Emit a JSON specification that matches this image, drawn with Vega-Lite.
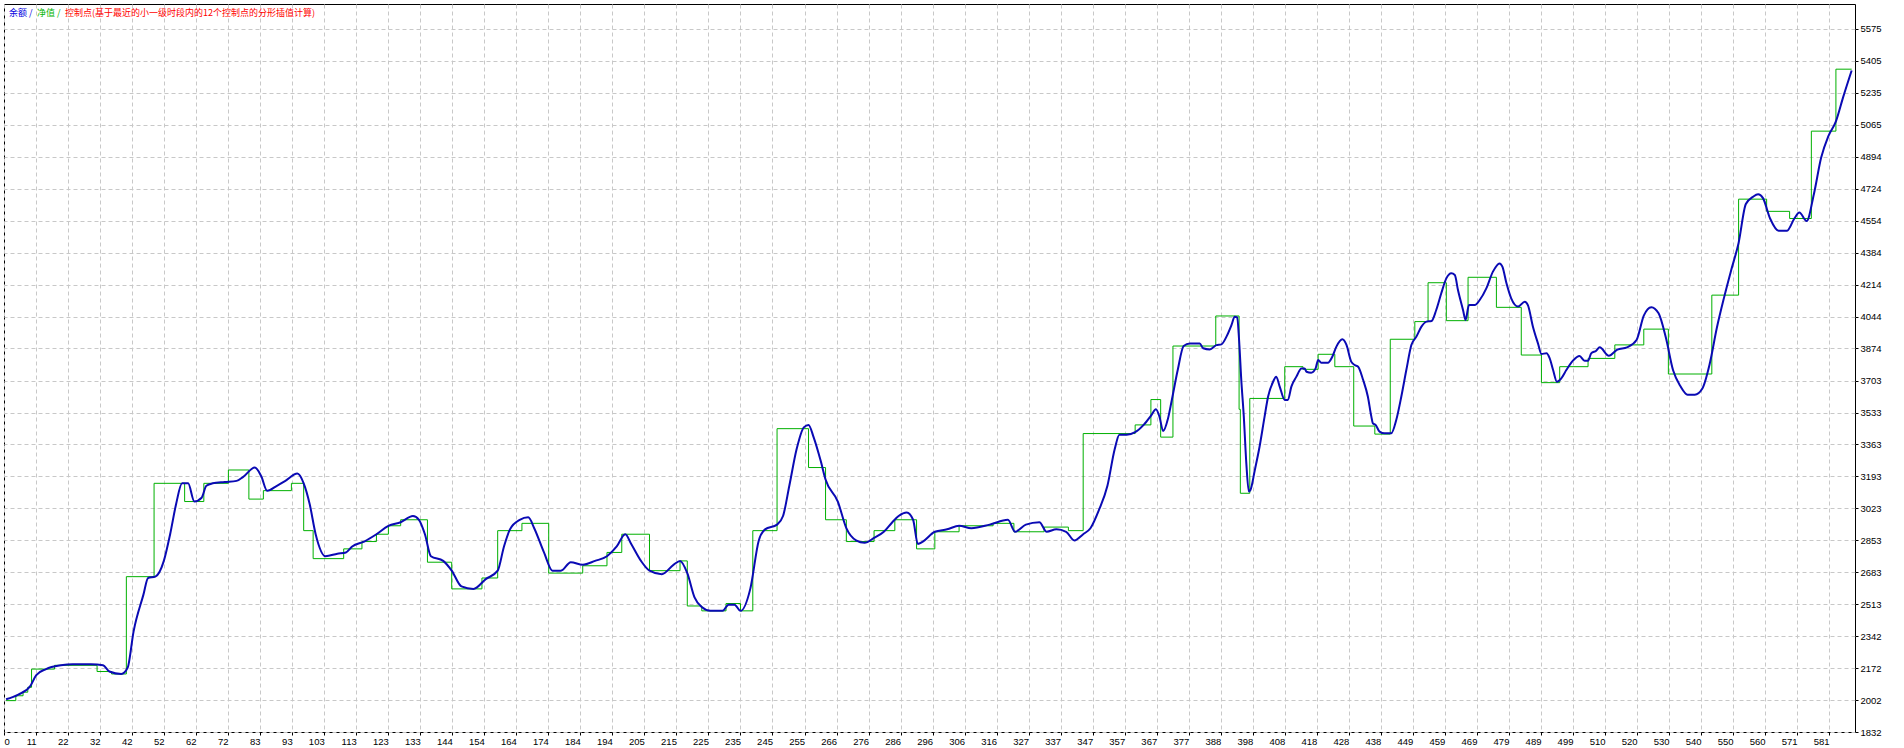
{
  "$schema": "https://vega.github.io/schema/vega-lite/v6.json",
  "width": 1851,
  "height": 728,
  "autosize": {"type": "none"},
  "padding": {"left": 4, "top": 4, "right": 49, "bottom": 16},
  "background": "white",
  "config": {
    "view": {"stroke": "black", "strokeWidth": 1},
    "axis": {
      "labelFont": "Liberation Sans",
      "labelFontSize": 9.5,
      "labelColor": "#000000",
      "gridColor": "#c8c8c8",
      "gridDash": [4, 3],
      "gridWidth": 1,
      "tickColor": "#000000",
      "tickSize": 3,
      "domain": false,
      "title": null
    },
    "legend": {"symbolSize": 0}
  },
  "datasets": {
    "balance": [
      {"s":"余额","x":2.4,"y":2006},{"s":"余额","x":6.3,"y":2031},{"s":"余额","x":10.1,"y":2077},{"s":"余额","x":12.0,"y":2135},{"s":"余额","x":15.1,"y":2167},{"s":"余额","x":19.8,"y":2187},{"s":"余额","x":23.6,"y":2193},{"s":"余额","x":29.4,"y":2193},{"s":"余额","x":33.2,"y":2187},{"s":"余额","x":35.2,"y":2154},{"s":"余额","x":39.0,"y":2141},{"s":"余额","x":41.0,"y":2174},{"s":"余额","x":42.9,"y":2368},{"s":"余额","x":46.0,"y":2562},{"s":"余额","x":47.5,"y":2652},{"s":"余额","x":49.8,"y":2659},{"s":"余额","x":52.5,"y":2743},{"s":"余额","x":54.5,"y":2885},{"s":"余额","x":56.4,"y":3046},{"s":"余额","x":58.3,"y":3156},{"s":"余额","x":60.2,"y":3156},{"s":"余额","x":62.2,"y":3059},{"s":"余额","x":64.5,"y":3079},{"s":"余额","x":66.0,"y":3143},{"s":"余额","x":68.0,"y":3156},{"s":"余额","x":71.8,"y":3163},{"s":"余额","x":75.6,"y":3169},{"s":"余额","x":77.6,"y":3189},{"s":"余额","x":81.4,"y":3240},{"s":"余额","x":83.4,"y":3195},{"s":"余额","x":85.3,"y":3117},{"s":"余额","x":88.4,"y":3143},{"s":"余额","x":91.1,"y":3169},{"s":"余额","x":94.9,"y":3208},{"s":"余额","x":96.9,"y":3156},{"s":"余额","x":98.8,"y":3046},{"s":"余额","x":100.7,"y":2885},{"s":"余额","x":103.8,"y":2768},{"s":"余额","x":107.6,"y":2781},{"s":"余额","x":110.3,"y":2788},{"s":"余额","x":112.3,"y":2820},{"s":"余额","x":116.1,"y":2846},{"s":"余额","x":120.0,"y":2885},{"s":"余额","x":123.8,"y":2930},{"s":"余额","x":127.7,"y":2949},{"s":"余额","x":131.6,"y":2982},{"s":"余额","x":133.5,"y":2962},{"s":"余额","x":135.4,"y":2885},{"s":"余额","x":137.3,"y":2768},{"s":"余额","x":141.2,"y":2743},{"s":"余额","x":143.9,"y":2691},{"s":"余额","x":147.0,"y":2607},{"s":"余额","x":150.8,"y":2594},{"s":"余额","x":154.7,"y":2646},{"s":"余额","x":158.5,"y":2691},{"s":"余额","x":160.5,"y":2820},{"s":"余额","x":162.4,"y":2911},{"s":"余额","x":165.5,"y":2962},{"s":"余额","x":168.2,"y":2975},{"s":"余额","x":170.1,"y":2917},{"s":"余额","x":173.2,"y":2788},{"s":"余额","x":175.9,"y":2691},{"s":"余额","x":178.6,"y":2691},{"s":"余额","x":181.7,"y":2736},{"s":"余额","x":185.5,"y":2723},{"s":"余额","x":189.4,"y":2743},{"s":"余额","x":193.2,"y":2768},{"s":"余额","x":196.3,"y":2820},{"s":"余额","x":199.0,"y":2885},{"s":"余额","x":200.9,"y":2833},{"s":"余额","x":204.0,"y":2743},{"s":"余额","x":206.7,"y":2691},{"s":"余额","x":210.6,"y":2672},{"s":"余额","x":214.4,"y":2723},{"s":"余额","x":216.4,"y":2743},{"s":"余额","x":218.7,"y":2678},{"s":"余额","x":221.0,"y":2549},{"s":"余额","x":223.3,"y":2497},{"s":"余额","x":226.0,"y":2477},{"s":"余额","x":229.9,"y":2477},{"s":"余额","x":231.8,"y":2510},{"s":"余额","x":233.7,"y":2510},{"s":"余额","x":235.6,"y":2477},{"s":"余额","x":238.7,"y":2594},{"s":"余额","x":241.4,"y":2852},{"s":"余额","x":243.4,"y":2911},{"s":"余额","x":247.2,"y":2936},{"s":"余额","x":249.1,"y":2982},{"s":"余额","x":251.1,"y":3143},{"s":"余额","x":253.4,"y":3337},{"s":"余额","x":255.7,"y":3454},{"s":"余额","x":257.2,"y":3467},{"s":"余额","x":258.8,"y":3402},{"s":"余额","x":261.1,"y":3273},{"s":"余额","x":262.6,"y":3176},{"s":"余额","x":266.5,"y":3059},{"s":"余额","x":269.2,"y":2917},{"s":"余额","x":272.3,"y":2852},{"s":"余额","x":275.0,"y":2839},{"s":"余额","x":278.0,"y":2865},{"s":"余额","x":281.1,"y":2898},{"s":"余额","x":283.8,"y":2949},{"s":"余额","x":285.8,"y":2982},{"s":"余额","x":288.4,"y":3001},{"s":"余额","x":290.4,"y":2962},{"s":"余额","x":291.9,"y":2833},{"s":"余额","x":293.5,"y":2846},{"s":"余额","x":297.3,"y":2898},{"s":"余额","x":301.2,"y":2911},{"s":"余额","x":305.0,"y":2930},{"s":"余额","x":308.9,"y":2917},{"s":"余额","x":314.7,"y":2936},{"s":"余额","x":320.5,"y":2962},{"s":"余额","x":322.8,"y":2898},{"s":"余额","x":326.2,"y":2936},{"s":"余额","x":330.5,"y":2949},{"s":"余额","x":332.8,"y":2898},{"s":"余额","x":335.9,"y":2911},{"s":"余额","x":339.0,"y":2898},{"s":"余额","x":341.6,"y":2852},{"s":"余额","x":344.4,"y":2885},{"s":"余额","x":346.7,"y":2917},{"s":"余额","x":349.4,"y":3014},{"s":"余额","x":352.1,"y":3143},{"s":"余额","x":354.4,"y":3337},{"s":"余额","x":355.9,"y":3415},{"s":"余额","x":358.2,"y":3415},{"s":"余额","x":360.9,"y":3428},{"s":"余额","x":363.6,"y":3467},{"s":"余额","x":366.0,"y":3518},{"s":"余额","x":367.5,"y":3551},{"s":"余额","x":368.6,"y":3512},{"s":"余额","x":369.8,"y":3434},{"s":"余额","x":371.3,"y":3499},{"s":"余额","x":372.5,"y":3596},{"s":"余额","x":374.4,"y":3758},{"s":"余额","x":376.3,"y":3887},{"s":"余额","x":378.3,"y":3900},
      {"s":"余额","x":381.4,"y":3901},{"s":"余额","x":382.5,"y":3875},{"s":"余额","x":384.6,"y":3869},{"s":"余额","x":386.7,"y":3892},{"s":"余额","x":388.3,"y":3896},{"s":"余额","x":389.9,"y":3937},{"s":"余额","x":391.5,"y":3999},{"s":"余额","x":392.5,"y":4043},{"s":"余额","x":393.3,"y":4040},{"s":"余额","x":393.9,"y":3919},{"s":"余额","x":394.6,"y":3706},{"s":"余额","x":395.4,"y":3511},{"s":"余额","x":396.2,"y":3262},{"s":"余额","x":397.0,"y":3112},{"s":"余额","x":397.5,"y":3120},{"s":"余额","x":398.9,"y":3227},{"s":"余额","x":400.4,"y":3351},{"s":"余额","x":402.0,"y":3511},{"s":"余额","x":403.1,"y":3617},{"s":"余额","x":404.7,"y":3697},{"s":"余额","x":405.7,"y":3724},{"s":"余额","x":406.8,"y":3671},{"s":"余额","x":408.4,"y":3600},{"s":"余额","x":409.4,"y":3600},{"s":"余额","x":410.5,"y":3671},{"s":"余额","x":412.1,"y":3724},{"s":"余额","x":413.7,"y":3768},{"s":"余额","x":414.7,"y":3768},{"s":"余额","x":415.3,"y":3750},{"s":"余额","x":416.8,"y":3745},{"s":"余额","x":418.2,"y":3768},{"s":"余额","x":419.0,"y":3813},{"s":"余额","x":420.0,"y":3798},{"s":"余额","x":422.1,"y":3798},{"s":"余额","x":423.5,"y":3830},{"s":"余额","x":424.8,"y":3884},{"s":"余额","x":426.7,"y":3923},{"s":"余额","x":428.0,"y":3893},{"s":"余额","x":429.5,"y":3804},{"s":"余额","x":430.6,"y":3786},{"s":"余额","x":431.7,"y":3777},{"s":"余额","x":433.3,"y":3706},{"s":"余额","x":434.8,"y":3617},{"s":"余额","x":435.9,"y":3511},{"s":"余额","x":436.4,"y":3475},{"s":"余额","x":437.3,"y":3466},{"s":"余额","x":438.5,"y":3431},{"s":"余额","x":440.1,"y":3422},{"s":"余额","x":442.2,"y":3422},{"s":"余额","x":443.8,"y":3493},{"s":"余额","x":445.4,"y":3617},{"s":"余额","x":447.0,"y":3759},{"s":"余额","x":448.6,"y":3892},{"s":"余额","x":450.2,"y":3937},{"s":"余额","x":451.8,"y":3990},{"s":"余额","x":453.4,"y":4017},{"s":"余额","x":455.0,"y":4020},{"s":"余额","x":456.5,"y":4079},{"s":"余额","x":458.1,"y":4168},{"s":"余额","x":459.7,"y":4247},{"s":"余额","x":461.3,"y":4274},{"s":"余额","x":462.4,"y":4265},{"s":"余额","x":463.4,"y":4185},{"s":"余额","x":465.0,"y":4079},{"s":"余额","x":465.8,"y":4026},{"s":"余额","x":466.9,"y":4105},{"s":"余额","x":468.7,"y":4105},{"s":"余额","x":470.3,"y":4132},{"s":"余额","x":472.4,"y":4194},{"s":"余额","x":474.5,"y":4283},{"s":"余额","x":476.6,"y":4327},{"s":"余额","x":477.5,"y":4310},{"s":"余额","x":478.8,"y":4221},{"s":"余额","x":480.3,"y":4141},{"s":"余额","x":482.5,"y":4097},{"s":"余额","x":484.6,"y":4123},{"s":"余额","x":485.6,"y":4105},{"s":"余额","x":487.2,"y":3990},{"s":"余额","x":488.8,"y":3901},{"s":"余额","x":489.9,"y":3845},{"s":"余额","x":491.5,"y":3848},{"s":"余额","x":492.5,"y":3822},{"s":"余额","x":493.6,"y":3759},{"s":"余额","x":494.8,"y":3697},{"s":"余额","x":496.2,"y":3715},{"s":"余额","x":497.8,"y":3759},{"s":"余额","x":499.9,"y":3809},{"s":"余额","x":502.0,"y":3834},{"s":"余额","x":503.6,"y":3809},{"s":"余额","x":504.7,"y":3809},{"s":"余额","x":505.7,"y":3848},{"s":"余额","x":507.3,"y":3862},{"s":"余额","x":508.4,"y":3880},
      {"s":"余额","x":511.3,"y":3835},{"s":"余额","x":514.0,"y":3868},{"s":"余额","x":517.1,"y":3880},{"s":"余额","x":520.1,"y":3919},{"s":"余额","x":522.4,"y":4049},{"s":"余额","x":524.8,"y":4094},{"s":"余额","x":527.1,"y":4061},{"s":"余额","x":529.4,"y":3932},{"s":"余额","x":531.7,"y":3758},{"s":"余额","x":534.0,"y":3674},{"s":"余额","x":536.3,"y":3628},{"s":"余额","x":538.6,"y":3628},{"s":"余额","x":541.0,"y":3661},{"s":"余额","x":543.3,"y":3790},{"s":"余额","x":545.6,"y":3984},{"s":"余额","x":547.9,"y":4146},{"s":"余额","x":550.2,"y":4294},{"s":"余额","x":552.5,"y":4436},{"s":"余额","x":554.8,"y":4643},{"s":"余额","x":557.1,"y":4682},{"s":"余额","x":558.7,"y":4695},{"s":"余额","x":560.2,"y":4676},{"s":"余额","x":562.5,"y":4566},{"s":"余额","x":565.2,"y":4501},{"s":"余额","x":567.9,"y":4501},{"s":"余额","x":570.2,"y":4566},{"s":"余额","x":571.8,"y":4598},{"s":"余额","x":574.1,"y":4553},{"s":"余额","x":576.4,"y":4695},{"s":"余额","x":578.7,"y":4889},{"s":"余额","x":581.0,"y":5005},{"s":"余额","x":583.4,"y":5083},{"s":"余额","x":585.7,"y":5212},{"s":"余额","x":588.4,"y":5354}
    ],
    "equity": [
      {"s":"净值","x":2.4,"y":1999},{"s":"净值","x":5.5,"y":2025},{"s":"净值","x":7.8,"y":2044},{"s":"净值","x":9.3,"y":2070},{"s":"净值","x":10.5,"y":2167},{"s":"净值","x":17.8,"y":2187},{"s":"净值","x":31.3,"y":2154},{"s":"净值","x":35.9,"y":2141},{"s":"净值","x":40.6,"y":2659},{"s":"净值","x":49.4,"y":3156},{"s":"净值","x":59.1,"y":3059},{"s":"净值","x":65.2,"y":3156},{"s":"净值","x":73.0,"y":3227},{"s":"净值","x":79.5,"y":3072},{"s":"净值","x":84.1,"y":3117},{"s":"净值","x":93.0,"y":3156},{"s":"净值","x":96.9,"y":2904},{"s":"净值","x":99.9,"y":2755},{"s":"净值","x":109.6,"y":2807},{"s":"净值","x":115.4,"y":2846},{"s":"净值","x":120.0,"y":2885},{"s":"净值","x":123.8,"y":2930},{"s":"净值","x":127.7,"y":2962},{"s":"净值","x":136.2,"y":2736},{"s":"净值","x":143.9,"y":2594},{"s":"净值","x":153.5,"y":2652},{"s":"净值","x":158.5,"y":2904},{"s":"净值","x":166.2,"y":2943},{"s":"净值","x":174.7,"y":2678},{"s":"净值","x":185.5,"y":2717},{"s":"净值","x":193.2,"y":2788},{"s":"净值","x":197.9,"y":2885},{"s":"净值","x":206.7,"y":2691},{"s":"净值","x":216.4,"y":2743},{"s":"净值","x":218.7,"y":2503},{"s":"净值","x":223.3,"y":2477},{"s":"净值","x":231.0,"y":2516},{"s":"净值","x":235.6,"y":2477},{"s":"净值","x":239.5,"y":2904},{"s":"净值","x":247.2,"y":3447},{"s":"净值","x":257.2,"y":3240},{"s":"净值","x":262.6,"y":2962},{"s":"净值","x":269.2,"y":2846},{"s":"净值","x":278.0,"y":2904},{"s":"净值","x":284.6,"y":2962},{"s":"净值","x":291.5,"y":2807},{"s":"净值","x":297.3,"y":2898},{"s":"净值","x":305.0,"y":2930},{"s":"净值","x":315.8,"y":2943},{"s":"净值","x":322.4,"y":2898},{"s":"净值","x":332.0,"y":2923},{"s":"净值","x":339.7,"y":2904},{"s":"净值","x":344.4,"y":3421},{"s":"净值","x":360.9,"y":3467},{"s":"净值","x":365.9,"y":3602},{"s":"净值","x":369.0,"y":3402},{"s":"净值","x":372.9,"y":3887},
      {"s":"净值","x":386.5,"y":4047},{"s":"净值","x":393.9,"y":3550},{"s":"净值","x":394.3,"y":3103},{"s":"净值","x":397.3,"y":3608},{"s":"净值","x":408.4,"y":3777},{"s":"净值","x":414.2,"y":3763},{"s":"净值","x":419.0,"y":3843},{"s":"净值","x":424.3,"y":3777},{"s":"净值","x":430.3,"y":3461},{"s":"净值","x":437.0,"y":3418},{"s":"净值","x":441.9,"y":3923},{"s":"净值","x":449.7,"y":4017},{"s":"净值","x":453.9,"y":4224},{"s":"净值","x":459.7,"y":4022},{"s":"净值","x":466.6,"y":4253},{"s":"净值","x":475.6,"y":4093},{"s":"净值","x":483.5,"y":3839},{"s":"净值","x":489.9,"y":3692},{"s":"净值","x":495.7,"y":3777},{"s":"净值","x":504.7,"y":3821},
      {"s":"净值","x":513.2,"y":3893},{"s":"净值","x":522.4,"y":3977},{"s":"净值","x":530.2,"y":3738},{"s":"净值","x":544.0,"y":4158},{"s":"净值","x":552.5,"y":4669},{"s":"净值","x":561.4,"y":4604},{"s":"净值","x":568.7,"y":4566},{"s":"净值","x":575.6,"y":5031},{"s":"净值","x":583.4,"y":5361},{"s":"净值","x":588.4,"y":5361}
    ]
  },
  "encoding": {
    "x": {
      "field": "x",
      "type": "quantitative",
      "scale": {"domain": [1.75, 589.46], "nice": false, "zero": false},
      "axis": {
        "orient": "bottom",
        "grid": true,
        "values": [1.75, 11.917, 22.083, 32.25, 42.417, 52.583, 62.75, 72.917, 83.083, 93.25, 103.417, 113.583, 123.75, 133.917, 144.083, 154.25, 164.417, 174.583, 184.75, 194.917, 205.083, 215.25, 225.417, 235.583, 245.75, 255.917, 266.083, 276.25, 286.417, 296.583, 306.75, 316.917, 327.083, 337.25, 347.417, 357.583, 367.75, 377.917, 388.083, 398.25, 408.417, 418.583, 428.75, 438.917, 449.083, 459.25, 469.417, 479.583, 489.75, 499.917, 510.083, 520.25, 530.417, 540.583, 550.75, 560.917, 571.083, 581.25],
        "labelExpr": "datum.value < 5 ? '0' : '' + floor(datum.value)",
        "labelAlign": {"condition": {"test": "datum.value < 5", "value": "left"}, "value": "right"},
        "labelBaseline": "top",
        "labelPadding": 1,
        "labelFlush": false,
        "labelOverlap": false
      }
    },
    "y": {
      "field": "y",
      "type": "quantitative",
      "scale": {"domain": [1832, 5708], "nice": false, "zero": false},
      "axis": {
        "orient": "right",
        "grid": true,
        "values": [1832, 2002, 2172, 2342, 2513, 2683, 2853, 3023, 3193, 3363, 3533, 3703, 3874, 4044, 4214, 4384, 4554, 4724, 4894, 5065, 5235, 5405, 5575],
        "format": "d",
        "labelAlign": "left",
        "labelBaseline": "middle",
        "labelPadding": 2,
        "labelFlush": false,
        "labelOverlap": false
      }
    },
    "color": {
      "field": "s",
      "type": "nominal",
      "scale": {
        "domain": ["余额", "净值", "控制点(基于最近的小一级时段内的12个控制点的分形插值计算)"],
        "range": ["#0a0ab4", "#00b000", "#ff0000"]
      },
      "legend": {
        "orient": "top-left",
        "direction": "horizontal",
        "title": null,
        "offset": 4,
        "padding": 0,
        "gridAlign": "none",
        "symbolSize": 0,
        "symbolOpacity": 0,
        "symbolStrokeWidth": 0,
        "labelOffset": -8,
        "columnPadding": 3,
        "labelFont": "Noto Sans CJK SC",
        "labelFontSize": 9,
        "labelLimit": 0,
        "labelExpr": "(datum.value === '余额' || datum.value === '净值') ? datum.label + ' /' : datum.label",
        "encode": {
          "labels": {
            "update": {
              "fill": {"signal": "datum.value === '余额' ? '#0000e0' : (datum.value === '净值' ? '#00b400' : '#ff0000')"}
            }
          }
        }
      }
    }
  },
  "layer": [
    {
      "data": {"name": "equity"},
      "mark": {"type": "line", "interpolate": "step-after", "strokeWidth": 1}
    },
    {
      "data": {"name": "balance"},
      "mark": {"type": "line", "interpolate": "monotone", "strokeWidth": 2}
    }
  ]
}
